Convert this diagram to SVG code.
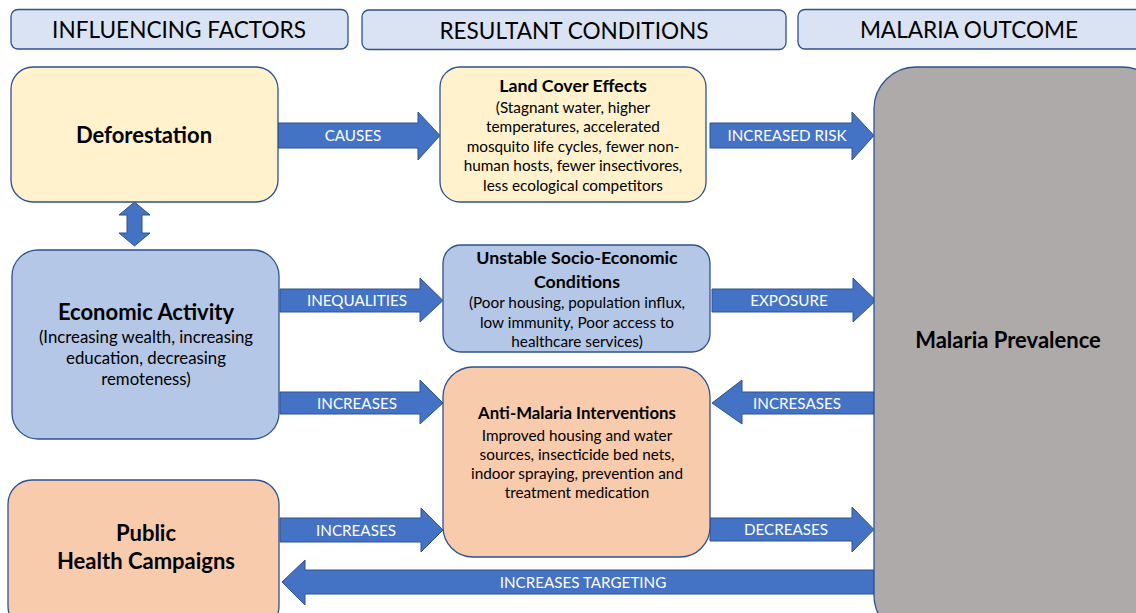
<svg xmlns="http://www.w3.org/2000/svg" width="1136" height="613" viewBox="0 0 1136 613">
<style>
text{font-family:Lato,"Open Sans","Liberation Sans",sans-serif;text-anchor:middle;fill:#000}
.hdr{fill:#dae3f3;stroke:#2f528f;stroke-width:1.3}
.ht{font-size:22.6px}
.box{stroke:#2f528f;stroke-width:1.3}
.yel{fill:#fff2cc}.blu{fill:#b4c7e7}.org{fill:#f8cbad}.gry{fill:#aeaaaa}
.t1{font-size:22px;font-weight:bold}
.t2{font-size:17.8px;font-weight:bold}
.t3{font-size:16.8px;font-weight:bold}
.b{font-size:15.3px}
.b16{font-size:16.8px}
.arr{fill:#4472c4;stroke:#2f528f;stroke-width:1}
.al{font-size:15.2px;fill:#fff}
</style>
<g id="headers">
<rect class="hdr" x="11" y="9.5" width="337" height="39.5" rx="7"/>
<text class="ht" x="179" y="38">INFLUENCING FACTORS</text>
<rect class="hdr" x="362" y="10" width="424" height="39.5" rx="7"/>
<text class="ht" x="574" y="39">RESULTANT CONDITIONS</text>
<rect class="hdr" x="798" y="9.5" width="350" height="39.5" rx="7"/>
<text class="ht" x="969" y="38">MALARIA OUTCOME</text>
</g>
<g id="connectors">
<path class="arr" d="M278,123 H418 V112 L440,135.5 L418,160 V148 H278 Z"/>
<text class="al" x="353" y="141">CAUSES</text>
<path class="arr" d="M710,123 H852 V112 L874,135.5 L852,160 V148 H710 Z"/>
<text class="al" x="787" y="141">INCREASED RISK</text>
<path class="arr" d="M280,289 H420 V278 L443,300.5 L420,322 V312 H280 Z"/>
<text class="al" x="357" y="306">INEQUALITIES</text>
<path class="arr" d="M712,289 H853 V278 L876,300.5 L853,322 V312 H712 Z"/>
<text class="al" x="789" y="306">EXPOSURE</text>
<path class="arr" d="M280,392 H420 V380 L443,403 L420,424 V414 H280 Z"/>
<text class="al" x="357" y="409">INCREASES</text>
<path class="arr" d="M874,392 H742 V380 L712,403 L742,424 V414 H874 Z"/>
<text class="al" x="797" y="409">INCRESASES</text>
<path class="arr" d="M280,518 H421 V508 L443,530 L421,552 V542 H280 Z"/>
<text class="al" x="356" y="536">INCREASES</text>
<path class="arr" d="M710,518 H852 V507 L874,529.5 L852,552 V541 H710 Z"/>
<text class="al" x="786" y="535">DECREASES</text>
<path class="arr" d="M874,570 H305 V560 L282,582 L305,605 V594 H874 Z"/>
<text class="al" x="583" y="588">INCREASES TARGETING</text>
<path class="arr" d="M134.5,202 L150,215 H142 V233 H150 L134.5,246 L119,233 H127 V215 H119 Z"/>
</g>
<g id="deforestation">
<rect class="box yel" x="11" y="67" width="267" height="135" rx="22"/>
<text class="t1" x="144" y="143">Deforestation</text>
</g>
<g id="economic">
<rect class="box blu" x="12" y="250" width="267" height="189" rx="26"/>
<text class="t1" x="146" y="320">Economic Activity</text>
<text class="b16" x="146" y="343">(Increasing wealth, increasing</text>
<text class="b16" x="146" y="364">education, decreasing</text>
<text class="b16" x="146" y="385">remoteness)</text>
</g>
<g id="publichealth">
<rect class="box org" x="8" y="480" width="271" height="150" rx="24"/>
<text class="t1" x="146" y="541">Public</text>
<text class="t1" x="146" y="569">Health Campaigns</text>
</g>
<g id="landcover">
<rect class="box yel" x="440" y="67" width="266" height="135" rx="20"/>
<text class="t2" x="573" y="92">Land Cover Effects</text>
<text class="b" x="573" y="113">(Stagnant water, higher</text>
<text class="b" x="573" y="132">temperatures, accelerated</text>
<text class="b" x="573" y="152">mosquito life cycles, fewer non-</text>
<text class="b" x="573" y="171">human hosts, fewer insectivores,</text>
<text class="b" x="573" y="191">less ecological competitors</text>
</g>
<g id="socioeconomic">
<rect class="box blu" x="443" y="245" width="267" height="107" rx="18"/>
<text class="t2" x="577" y="264">Unstable Socio-Economic</text>
<text class="t2" x="577" y="288">Conditions</text>
<text class="b" x="577" y="308">(Poor housing, population influx,</text>
<text class="b" x="577" y="328">low immunity, Poor access to</text>
<text class="b" x="577" y="347">healthcare services)</text>
</g>
<g id="antimalaria">
<rect class="box org" x="443" y="367" width="267" height="190" rx="30"/>
<text class="t3" x="577" y="419">Anti-Malaria Interventions</text>
<text class="b" x="577" y="441">Improved housing and water</text>
<text class="b" x="577" y="460">sources, insecticide bed nets,</text>
<text class="b" x="577" y="479">indoor spraying, prevention and</text>
<text class="b" x="577" y="498">treatment medication</text>
</g>
<g id="prevalence">
<rect class="box gry" x="874" y="67" width="290" height="570" rx="42"/>
<text class="t1" x="1008" y="348">Malaria Prevalence</text>
</g>
</svg>
